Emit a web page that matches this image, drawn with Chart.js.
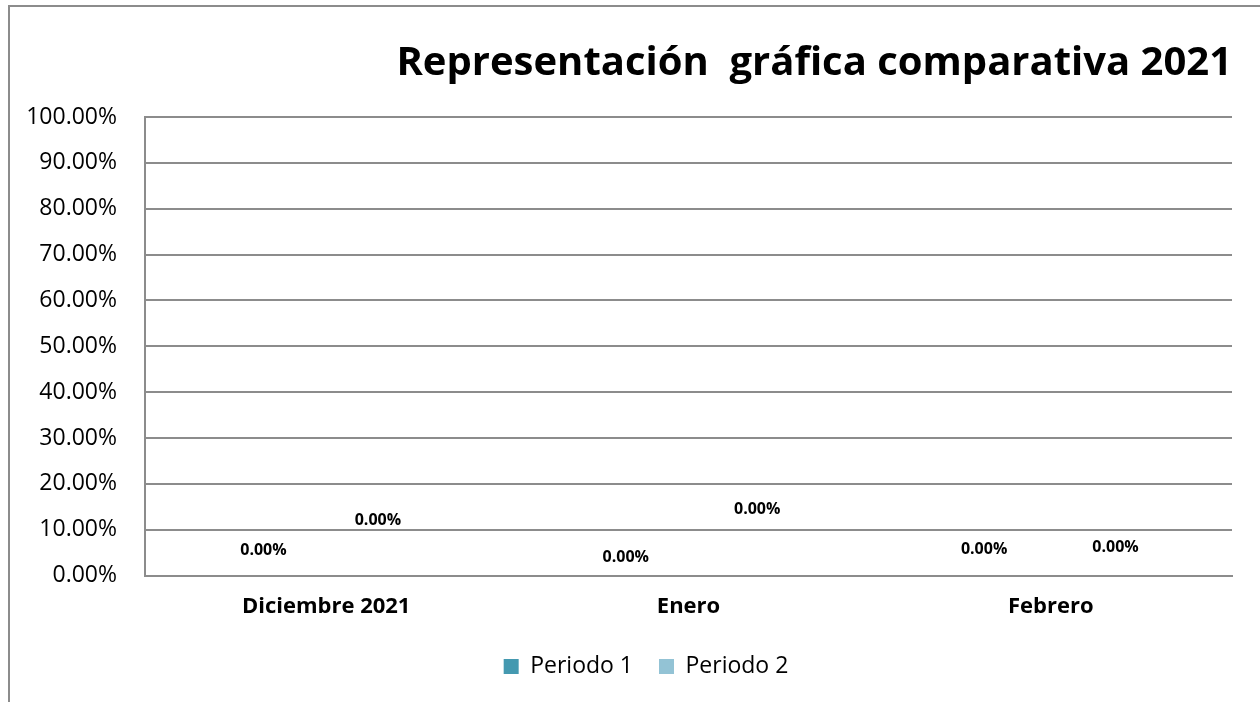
<!DOCTYPE html>
<html>
<head>
<meta charset="utf-8">
<script src="https://cdn.jsdelivr.net/npm/chart.js@4.4.1/dist/chart.umd.min.js"></script>
<style>
  html, body { margin: 0; padding: 0; background: #fff; overflow: hidden; }
  #frame { position: absolute; left: 8px; top: 5px; width: 1400px; height: 900px; border: 2px solid #8c8c8c; }
  #wrap { position: absolute; left: 0; top: 0; width: 1260px; height: 702px; }
</style>
</head>
<body>
<div id="frame"></div>
<div id="wrap"><canvas id="chart"></canvas></div>
<script>
  const categories = ['Diciembre 2021', 'Enero', 'Febrero'];
  const periodo1 = [0, 0, 0];
  const periodo2 = [0, 0, 0];
  const yTicks = [0, 10, 20, 30, 40, 50, 60, 70, 80, 90, 100];

  const FONT = "'Open Sans', sans-serif";

  // etiquetas de datos movidas a mano en el original
  const labelPlugin = {
    id: 'dataLabels',
    afterDatasetsDraw(chart, args, opts) {
      const ctx = chart.ctx;
      const y = chart.scales.y;
      ctx.save();
      ctx.font = 'bold 16px ' + FONT;
      ctx.fillStyle = '#000';
      ctx.textAlign = 'center';
      ctx.textBaseline = 'middle';
      chart.data.datasets.forEach((ds, i) => {
        chart.getDatasetMeta(i).data.forEach((bar, j) => {
          const txt = ds.data[j].toFixed(2) + '%';
          ctx.fillText(txt, bar.x + opts.dx[i][j], y.getPixelForValue(opts.at[i][j]));
        });
      });
      ctx.restore();
    }
  };

  // la leyenda del original queda algo a la derecha y arriba
  const legendShift = {
    id: 'legendShift',
    afterLayout(chart) {
      const lg = chart.legend;
      lg.left += 30; lg.right += 30;
      lg.top -= 9; lg.bottom -= 9;
    }
  };

  new Chart(document.getElementById('chart'), {
    type: 'bar',
    data: {
      labels: categories,
      datasets: [
        { label: 'Periodo 1', data: periodo1, backgroundColor: '#4499b0', borderWidth: 0 },
        { label: 'Periodo 2', data: periodo2, backgroundColor: '#93c3d5', borderWidth: 0 }
      ]
    },
    options: {
      responsive: true,
      maintainAspectRatio: false,
      animation: false,
      categoryPercentage: 0.571,
      barPercentage: 1,
      layout: { padding: { left: 0, right: 28, top: 0, bottom: 5 } },
      plugins: {
        title: {
          display: true,
          text: 'Representación  gráfica comparativa 2021',
          align: 'end',
          color: '#000',
          font: { family: FONT, size: 40, weight: 'bold' },
          padding: { top: 40, bottom: 29 }
        },
        legend: {
          position: 'bottom',
          labels: {
            color: '#000',
            font: { family: FONT, size: 23 },
            boxWidth: 15,
            boxHeight: 15,
            padding: 26
          }
        },
        tooltip: { enabled: false },
        dataLabels: {
          at: [[5.5, 3.9, 5.7], [12.0, 14.4, 6.1]],
          dx: [[-11, -11, -15], [0, 17, 13]]
        }
      },
      scales: {
        x: {
          grid: { display: false, drawTicks: false },
          border: { color: '#8c8c8c', width: 2 },
          ticks: { color: '#000', font: { family: FONT, size: 22, weight: 'bold' }, padding: 18 }
        },
        y: {
          min: 0,
          max: 100,
          afterFit(scale) { scale.width = 145; },
          afterBuildTicks(scale) { scale.ticks = yTicks.map(v => ({ value: v })); },
          grid: { color: '#8c8c8c', lineWidth: 2, drawTicks: false },
          border: { color: '#8c8c8c', width: 2 },
          ticks: {
            color: '#000',
            font: { family: FONT, size: 23 },
            padding: 28,
            callback: v => v.toFixed(2) + '%'
          }
        }
      }
    },
    plugins: [labelPlugin, legendShift]
  });
</script>
</body>
</html>
